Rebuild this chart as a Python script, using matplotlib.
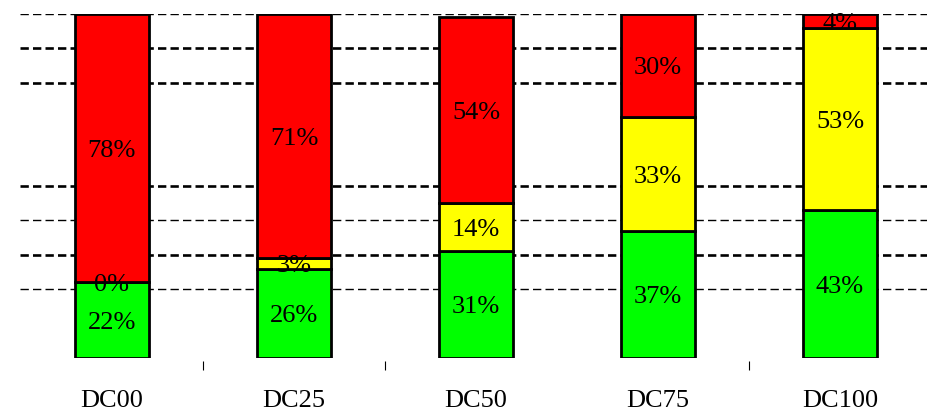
import numpy as np
import matplotlib
matplotlib.use("Agg")
import matplotlib.pyplot as plt

plt.rcParams["font.family"] = ["Liberation Serif", "DejaVu Serif"]
plt.rcParams["lines.scale_dashes"] = False

categories = ["DC00", "DC25", "DC50", "DC75", "DC100"]
green = [22, 26, 31, 37, 43]
yellow = [0, 3, 14, 33, 53]
red = [78, 71, 54, 30, 4]

# reference lines (value, heavy?)
grid_levels = [100, 90, 80, 50, 40, 30, 20]
grid_heavy = [False, True, True, True, False, True, False]

# separators between groups (one is left out)
sep_ticks = [0.5, 1.5, 3.5]

fig = plt.figure(figsize=(9.27, 4.13), dpi=100)
ax = fig.add_axes([20 / 927, 55 / 413, 1 - 20 / 927, 344 / 413])

x = np.arange(len(categories))
w = 0.407
for lvl, heavy in zip(grid_levels, grid_heavy):
    ax.axhline(lvl, color="black", lw=1.9 if heavy else 1.0,
               dashes=(6, 3), zorder=0)

segments = [(green, "#00ff00"), (yellow, "#ffff00"), (red, "#ff0000")]
bottom = np.zeros(len(categories))
for vals, col in segments:
    vals = np.array(vals, dtype=float)
    ax.bar(x, vals, w, bottom=bottom, color=col, edgecolor="black",
           linewidth=2.0, zorder=2)
    for xi, b, v in zip(x, bottom, vals):
        ax.text(xi, b + v / 2 - 0.8, f"{v:.0f}%", ha="center", va="center",
                fontsize=19, color="black", zorder=3)
    bottom += vals

ax.set_xlim(-0.505, 4.478)
ax.set_ylim(0, 100)

for s in ["top", "right", "left"]:
    ax.spines[s].set_visible(False)
ax.spines["bottom"].set_position(("outward", 2.2))
ax.spines["bottom"].set_visible(False)
ax.set_yticks([])

ax.set_xticks(x)
ax.set_xticklabels(categories, fontsize=19)
ax.tick_params(axis="x", which="major", length=0, pad=21)
ax.set_xticks(sep_ticks, minor=True)
ax.tick_params(axis="x", which="minor", length=6.5, width=0.8, color="black")

fig.savefig("out.png", dpi=100)
